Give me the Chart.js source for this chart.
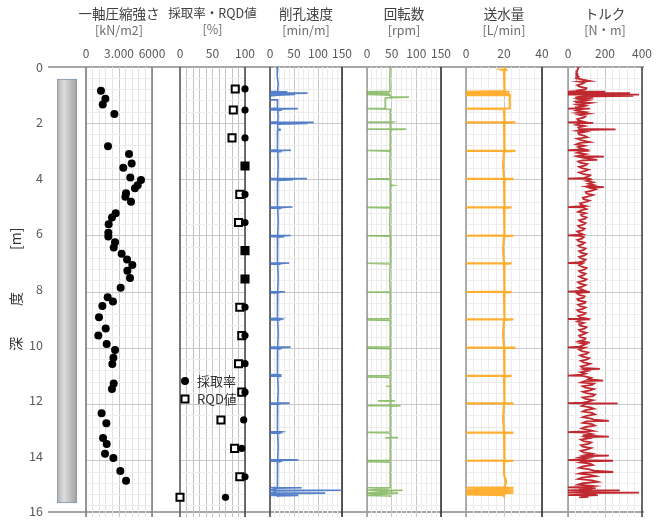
<!DOCTYPE html>
<html>
<head>
<meta charset="utf-8">
<script src="https://cdn.jsdelivr.net/npm/chart.js@4.4.1/dist/chart.umd.min.js"></script>
<style>
  html, body { margin: 0; padding: 0; background: #fff; }
  #wrap { position: relative; width: 659px; height: 524px; overflow: hidden; }
  #wrap canvas { position: absolute; top: 0; }
</style>
</head>
<body>
<div id="wrap">
  <canvas id="base" width="659" height="524" style="left:0"></canvas>
  <canvas id="core"></canvas>
  <canvas id="p1"></canvas>
  <canvas id="p2"></canvas>
  <canvas id="p3"></canvas>
  <canvas id="p4"></canvas>
  <canvas id="p5"></canvas>
  <canvas id="p6"></canvas>
</div>
<script>
// ---- data (depth in m) ----
const coreRange = [0.43, 15.5];

// 一軸圧縮強さ
const ucsDepth = [0.84, 1.13, 1.33, 1.67, 2.82, 3.09, 3.43, 3.58, 3.93, 4.02, 4.2, 4.31, 4.49, 4.61, 4.79, 5.2,
  5.35, 5.59, 5.89, 6.03, 6.23, 6.42, 6.64, 6.84, 7.04, 7.24, 7.5, 7.85, 8.19, 8.34, 8.5, 8.9,
  9.3, 9.55, 9.85, 10.06, 10.34, 10.56, 11.25, 11.45, 12.31, 12.67, 13.19, 13.4, 13.75, 13.9, 14.36, 14.71];
const ucsVal = [1360, 1760, 1520, 2580, 2000, 3910, 4150, 3390, 4030, 5000, 4700, 4450, 3640, 3580, 4090, 2700,
  2360, 2060, 2030, 2030, 2640, 2520, 3240, 3730, 4210, 3760, 4000, 3150, 1970, 2450, 1490, 1180,
  1790, 1120, 1880, 2640, 2490, 2390, 2520, 2360, 1420, 1850, 1550, 1880, 1730, 2490, 3120, 3640];

// 採取率・RQD値
const sampleDepth = [0.78, 1.53, 2.52, 3.52, 4.53, 5.53, 6.53, 7.54, 8.54, 9.55, 10.55, 11.56, 12.55, 13.56, 14.57, 15.3];
const recovery = [100, 100, 100, 100, 100, 100, 100, 100, 100, 100, 100, 100, 98, 95, 100, 70];
const rqd = [85, 82, 80, 100, 92, 90, 100, 100, 92, 95, 90, 95, 63, 84, 92, 0];

// 削孔速度
const speedDepth = [
  0, 0.3, 0.6, 0.86,
  0.88, 0.88, 0.9,
  0.93, 0.93, 0.95,
  0.98, 0.98, 1.0,
  1.03, 1.17, 1.17, 1.3, 1.46,
  1.48, 1.48, 1.5,
  1.53, 1.53, 1.55, 1.8, 1.95,
  1.97, 1.97, 1.99,
  2.01, 2.01, 2.03, 2.21, 2.22, 2.24, 2.25, 2.6, 2.94,
  2.96, 2.96, 2.98,
  3.0, 3.0, 3.02, 3.5, 3.96,
  3.97, 3.97, 3.99,
  4.01, 4.01, 4.03, 4.5, 4.97,
  4.98, 4.98, 5.0,
  5.02, 5.02, 5.04, 5.5, 5.98,
  5.99, 5.99, 6.01,
  6.03, 6.03, 6.05, 6.5, 6.96,
  6.97, 6.97, 6.99,
  7.01, 7.01, 7.03, 7.5, 7.98,
  7.99, 7.99, 8.01,
  8.03, 8.03, 8.05, 8.5, 8.93,
  8.94, 8.94, 8.96,
  8.99, 8.99, 9.01, 9.5, 9.95,
  9.96, 9.96, 9.98,
  10.01, 10.01, 10.03, 10.5, 10.93,
  10.94, 10.94, 10.96,
  10.99, 10.99, 11.01, 11.5, 11.94,
  11.95, 11.95, 11.97,
  11.99, 11.99, 12.01, 12.5, 12.96,
  12.97, 12.97, 12.99,
  13.02, 13.02, 13.04, 13.5, 13.96,
  13.97, 13.97, 13.99,
  14.02, 14.02, 14.04, 14.5, 14.94,
  14.96, 14.96, 14.98,
  15.05, 15.05, 15.07,
  15.15, 15.15, 15.17,
  15.23, 15.23, 15.25, 15.3
];
const speedVal = [
  16, 15, 17, 16,
  0, 36, 16,
  0, 78, 16,
  0, 52, 16,
  0, 0, 16, 15, 16,
  0, 58, 16,
  0, 25, 16, 17, 16,
  0, 91, 16,
  0, 78, 16, 16, 21, 21, 16, 15, 16,
  0, 44, 16,
  0, 25, 16, 17, 16,
  0, 77, 16,
  0, 48, 16, 15, 16,
  0, 47, 16,
  0, 25, 16, 17, 16,
  0, 43, 16,
  0, 30, 16, 15, 16,
  0, 40, 16,
  0, 20, 16, 17, 16,
  0, 31, 16,
  0, 18, 16, 15, 16,
  0, 21, 16,
  0, 20, 16, 17, 16,
  0, 43, 16,
  0, 25, 16, 15, 16,
  0, 24, 16,
  0, 24, 16, 17, 16,
  0, 41, 16,
  0, 18, 16, 15, 16,
  0, 21, 16,
  0, 20, 16, 17, 16,
  0, 59, 16,
  0, 26, 16, 15, 16,
  0, 66, 16,
  0, 150, 16,
  0, 115, 16,
  0, 59, 16, 16
];

// 回転数
const rotDepth = [
  0, 0.5, 0.86,
  0.88, 0.9,
  0.93, 0.95,
  0.98, 1.0,
  1.06, 1.07, 1.09, 1.1, 1.47,
  1.48, 1.5, 1.95,
  1.96, 1.96, 1.98, 2.2,
  2.21, 2.21, 2.23, 2.96,
  2.97, 2.99, 3.5, 3.97,
  3.98, 4.0, 4.2, 4.21, 4.23, 4.98,
  4.99, 5.01, 5.5, 5.99,
  6.0, 6.02, 6.5, 6.97,
  6.98, 7.0, 7.5, 7.99,
  8.0, 8.02, 8.94,
  8.95, 8.97, 8.99, 9.01, 9.95,
  9.96, 9.98, 10.0, 10.02, 10.97,
  10.98, 11.0, 11.02, 11.04, 11.34, 11.35, 11.37, 11.86,
  11.87, 11.87, 11.88, 12.03,
  12.04, 12.04, 12.06, 12.98,
  12.99, 13.01, 13.17, 13.18, 13.18, 13.19, 13.98,
  13.99, 14.01, 14.03, 14.05, 14.95,
  14.96, 14.98, 15.05, 15.05, 15.07, 15.15, 15.15, 15.17, 15.23, 15.25, 15.3
];
const rotVal = [
  47, 46, 47,
  0, 47,
  0, 47,
  0, 47,
  47, 85, 47, 37, 37,
  0, 47, 47,
  0, 51, 47, 47,
  0, 79, 47, 47,
  0, 47, 46, 47,
  0, 47, 47, 53, 47, 47,
  0, 47, 46, 47,
  0, 47, 48, 47,
  0, 47, 46, 47,
  0, 47, 47,
  0, 47, 0, 47, 47,
  0, 47, 0, 47, 47,
  0, 47, 0, 47, 47, 43, 47, 47,
  57, 22, 47, 47,
  0, 68, 47, 47,
  0, 47, 47, 63, 37, 47, 47,
  0, 47, 0, 47, 47,
  0, 47, 0, 72, 47, 0, 63, 47, 0, 47, 47
];

// 送水量
const flowDepth = [
  0, 0.1, 0.1, 0.12, 0.5, 0.86,
  0.88, 0.88, 0.92, 0.92, 1.0, 1.0, 1.2, 1.47,
  1.48, 1.5, 1.8, 1.96,
  1.97, 1.97, 1.99, 2.5, 2.97,
  2.98, 2.98, 3.0, 3.5, 3.97,
  3.98, 3.98, 4.0, 4.5, 4.98,
  4.99, 4.99, 5.01, 5.5, 5.99,
  6.0, 6.0, 6.02, 6.5, 6.97,
  6.98, 6.98, 7.0, 7.5, 7.99,
  8.0, 8.0, 8.02, 8.5, 8.96,
  8.97, 8.97, 8.99, 9.5, 9.97,
  9.98, 9.98, 10.0, 10.5, 10.97,
  10.98, 10.98, 11.0, 11.5, 11.95,
  11.96, 11.96, 11.98, 12.5, 12.99,
  13.0, 13.0, 13.02, 13.5, 13.99,
  14.0, 14.0, 14.02, 14.5, 14.7, 14.8, 14.95,
  14.96, 14.96, 14.98, 15.05, 15.05, 15.07, 15.13, 15.13, 15.15, 15.2, 15.22, 15.3
];
const flowVal = [
  20, 21, 19, 20, 20.5, 20,
  0, 23, 0, 23, 0, 23, 23, 23,
  0, 20, 20.5, 20,
  0, 26, 20, 20.5, 20,
  0, 26, 20, 19.5, 20,
  0, 25, 20, 20.5, 20,
  0, 24, 20, 20.5, 20,
  0, 25, 20, 19.5, 20,
  0, 24, 20, 20.5, 20,
  0, 24, 20, 20.5, 20,
  0, 25, 20, 19.5, 20,
  0, 26, 20, 20.5, 20,
  0, 24, 20, 20.5, 20,
  0, 25, 20, 19.5, 20,
  0, 25, 20, 20.5, 20,
  0, 25, 20, 20, 21, 21, 20,
  0, 25, 20, 0, 25, 20, 0, 25, 20, 0, 20, 20
];

// トルク
const torqueDepth = [
  0, 0.05, 0.1, 0.15, 0.2, 0.25, 0.3, 0.35, 0.4, 0.45, 0.5, 0.52, 0.55, 0.6, 0.65, 0.7, 0.75, 0.8, 0.83, 0.85,
  0.88, 0.88, 0.9, 0.93, 0.93, 0.95, 0.98, 0.98, 1.0, 1.03, 1.05,
  1.08, 1.1, 1.13, 1.15, 1.18, 1.2, 1.23, 1.25, 1.28, 1.3, 1.33, 1.35, 1.38, 1.4, 1.43, 1.46,
  1.48, 1.48, 1.5, 1.55, 1.6, 1.63, 1.66, 1.7, 1.75, 1.8, 1.85, 1.9, 1.94,
  1.97, 1.99, 2.0, 2.05, 2.1, 2.15, 2.2, 2.22, 2.24, 2.27, 2.3, 2.35, 2.4, 2.45, 2.5, 2.55, 2.6, 2.67, 2.7, 2.75, 2.8, 2.85, 2.9, 2.93,
  2.96, 2.97, 3.0, 3.05, 3.1, 3.15, 3.19, 3.21, 3.25, 3.3, 3.32, 3.36, 3.4, 3.45, 3.5, 3.55, 3.6, 3.65, 3.7, 3.75, 3.8, 3.85, 3.9, 3.94,
  3.97, 3.98, 4.0, 4.05, 4.1, 4.15, 4.2, 4.24, 4.27, 4.3, 4.35, 4.4, 4.45, 4.5, 4.55, 4.6, 4.65, 4.7, 4.75, 4.8, 4.85, 4.9, 4.94,
  4.98, 4.99, 5.05, 5.1, 5.15, 5.2, 5.25, 5.3, 5.35, 5.4, 5.45, 5.5, 5.55, 5.6, 5.65, 5.7, 5.75, 5.8, 5.85, 5.9, 5.95,
  5.99, 6.0, 6.05, 6.1, 6.15, 6.2, 6.25, 6.3, 6.35, 6.4, 6.45, 6.5, 6.55, 6.6, 6.65, 6.7, 6.75, 6.8, 6.85, 6.9, 6.94,
  6.97, 6.98, 7.05, 7.1, 7.15, 7.2, 7.25, 7.3, 7.35, 7.4, 7.45, 7.5, 7.55, 7.6, 7.65, 7.7, 7.75, 7.8, 7.85, 7.9, 7.95,
  7.99, 8.0, 8.02, 8.05, 8.1, 8.15, 8.2, 8.25, 8.3, 8.35, 8.4, 8.45, 8.5, 8.55, 8.6, 8.65, 8.7, 8.75, 8.8, 8.85, 8.9, 8.93,
  8.96, 8.97, 8.99, 9.05, 9.1, 9.15, 9.2, 9.25, 9.3, 9.35, 9.4, 9.45, 9.5, 9.55, 9.6, 9.65, 9.7, 9.75, 9.8, 9.82, 9.86, 9.9, 9.94,
  9.97, 9.98, 10.05, 10.1, 10.15, 10.2, 10.25, 10.3, 10.35, 10.4, 10.45, 10.5, 10.55, 10.6, 10.65, 10.7, 10.73, 10.75, 10.8, 10.85, 10.9, 10.94,
  10.97, 10.98, 11.05, 11.1, 11.15, 11.17, 11.22, 11.26, 11.3, 11.35, 11.4, 11.45, 11.5, 11.55, 11.6, 11.65, 11.7, 11.75, 11.8, 11.85, 11.9, 11.93,
  11.95, 11.96, 11.98, 12.05, 12.1, 12.15, 12.2, 12.25, 12.3, 12.35, 12.4, 12.45, 12.5, 12.54, 12.58, 12.6, 12.65, 12.7, 12.75, 12.8, 12.85, 12.9, 12.94,
  12.98, 13.0, 13.05, 13.1, 13.14, 13.16, 13.2, 13.25, 13.3, 13.35, 13.4, 13.45, 13.5, 13.55, 13.6, 13.65, 13.7, 13.75, 13.8, 13.82, 13.84, 13.88, 13.9, 13.94,
  13.98, 14.0, 14.02, 14.06, 14.1, 14.15, 14.2, 14.25, 14.3, 14.35, 14.4, 14.42, 14.46, 14.5, 14.55, 14.6, 14.65, 14.7, 14.75, 14.8, 14.85, 14.9, 14.93,
  14.95, 14.97, 15.0, 15.03, 15.05, 15.05, 15.07, 15.1, 15.13, 15.13, 15.15, 15.18, 15.22, 15.22, 15.25, 15.28, 15.3
];
const torqueVal = [
  58, 55, 52, 47, 45, 52, 50, 58, 46, 80, 118, 60, 90, 75, 50, 62, 100, 95, 55, 60,
  0, 200, 70, 0, 335, 90, 0, 384, 80, 353, 70,
  40, 136, 50, 60, 110, 95, 40, 45, 120, 100, 45, 55, 95, 85, 50, 60,
  0, 118, 70, 45, 90, 55, 107, 60, 95, 85, 50, 55, 80,
  0, 136, 70, 45, 90, 55, 60, 257, 75, 50, 95, 55, 60, 90, 105, 50, 70, 117, 65, 45, 90, 55, 70, 90,
  0, 117, 75, 50, 95, 60, 194, 70, 100, 158, 80, 55, 64, 105, 95, 60, 75, 110, 90, 60, 80, 120, 110, 85,
  0, 120, 125, 100, 136, 110, 140, 105, 194, 120, 150, 130, 95, 100, 135, 110, 80, 85, 115, 95, 65, 70, 95,
  0, 80, 100, 70, 55, 95, 70, 75, 100, 90, 60, 70, 95, 85, 55, 65, 90, 80, 50, 60, 80,
  0, 55, 85, 75, 50, 60, 90, 80, 55, 65, 95, 85, 60, 70, 100, 90, 60, 70, 95, 85, 60,
  0, 80, 60, 75, 100, 90, 60, 70, 95, 85, 60, 75, 100, 90, 55, 65, 95, 80, 55, 70, 90,
  0, 118, 75, 50, 60, 90, 85, 50, 55, 95, 90, 55, 65, 95, 80, 50, 60, 95, 85, 55, 65, 90,
  0, 118, 70, 50, 85, 60, 65, 100, 90, 60, 70, 100, 85, 60, 65, 95, 90, 60, 118, 70, 95, 80, 60,
  0, 90, 60, 75, 110, 100, 65, 80, 115, 105, 70, 85, 120, 100, 70, 80, 172, 85, 110, 70, 95, 70,
  0, 80, 125, 110, 190, 90, 70, 140, 130, 80, 95, 140, 120, 80, 100, 145, 135, 80, 95, 135, 110, 80,
  0, 268, 100, 75, 120, 140, 95, 80, 130, 145, 100, 80, 125, 140, 221, 100, 80, 130, 145, 95, 75, 110, 135,
  0, 100, 130, 80, 221, 95, 115, 70, 85, 125, 110, 70, 80, 125, 105, 70, 85, 130, 95, 221, 90, 65, 110, 80,
  0, 243, 90, 65, 120, 135, 80, 60, 110, 140, 244, 85, 60, 120, 150, 75, 55, 130, 160, 80, 55, 140, 100,
  0, 150, 60, 130, 0, 280, 90, 140, 0, 384, 100, 150, 0, 161, 70, 110, 60
];

// ---- helpers ----
const FONT = '"Noto Sans CJK JP", "Noto Sans", sans-serif';
const M = 24; // side margin of each panel canvas

const pts = (vals, depths) => depths.map((d, i) => ({ x: vals[i], y: d }));
const isMajorDepth = v => Math.abs(v / 2 - Math.round(v / 2)) < 1e-6;

// left/right borders of each panel
const frame = {
  id: 'frame',
  beforeDatasetsDraw(chart, args, opts) {
    const { ctx, chartArea: a } = chart;
    ctx.save();
    ctx.lineWidth = 1.5;
    ctx.strokeStyle = opts.left;
    ctx.beginPath(); ctx.moveTo(a.left, a.top); ctx.lineTo(a.left, a.bottom); ctx.stroke();
    ctx.strokeStyle = opts.right;
    ctx.beginPath(); ctx.moveTo(a.right, a.top); ctx.lineTo(a.right, a.bottom); ctx.stroke();
    ctx.restore();
  }
};

// legend drawn inside the recovery / RQD panel
const markLegend = {
  id: 'markLegend',
  afterDatasetsDraw(chart) {
    const { ctx, chartArea: a } = chart;
    const x = a.left + 5;
    const rows = [a.top + 314, a.top + 332];
    ctx.save();
    ctx.font = '13px ' + FONT;
    ctx.textBaseline = 'middle';
    chart.data.datasets.forEach((ds, i) => {
      const y = rows[i];
      if (ds.pointStyle === 'rect') {
        ctx.fillStyle = '#fff';
        ctx.strokeStyle = '#000';
        ctx.lineWidth = 2;
        ctx.fillRect(x - 3.5, y - 3.5, 7, 7);
        ctx.strokeRect(x - 3.5, y - 3.5, 7, 7);
      } else {
        ctx.fillStyle = '#000';
        ctx.beginPath(); ctx.arc(x, y, 4, 0, Math.PI * 2); ctx.fill();
      }
      ctx.fillStyle = '#333';
      ctx.fillText(ds.label, x + 12, y);
    });
    ctx.restore();
  }
};

function panel(id, left, width, ax, title, unit, datasets, borders, extra) {
  const cv = document.getElementById(id);
  cv.width = width + 2 * M;
  cv.height = 524;
  cv.style.left = (left - M) + 'px';
  return new Chart(cv, {
    type: 'scatter',
    data: { datasets },
    options: {
      responsive: false,
      animation: false,
      events: [],
      layout: { padding: { left: 0, right: 0, top: 0, bottom: 7 } },
      plugins: {
        legend: { display: false },
        tooltip: { enabled: false },
        title: {
          display: true, text: title, color: '#404040',
          font: { family: FONT, size: ax.titleSize || 13.5, weight: 'normal' },
          padding: { top: 6, bottom: 1 }
        },
        subtitle: {
          display: true, text: unit, color: '#6e6e6e',
          font: { family: FONT, size: 12.5 },
          padding: { top: 0, bottom: 0 }
        },
        frame: borders
      },
      scales: {
        x: {
          type: 'linear', position: 'top', min: ax.min, max: ax.max,
          afterFit: s => { s.height = 67 - 6 - 1 - (ax.titleSize || 13.5) * 1.2 - 12.5 * 1.2; },
          ticks: {
            stepSize: ax.minor, autoSkip: false, maxRotation: 0, minRotation: 0,
            padding: 6, color: '#595959', font: { family: FONT, size: 12 },
            callback: v => ax.labels[v] ?? ''
          },
          grid: {
            drawTicks: false,
            color: c => c.tick.value % ax.major === 0 ? '#c8c8c8' : ax.minorColor
          },
          border: { display: false }
        },
        y: {
          type: 'linear', reverse: true, min: 0, max: 16,
          afterFit: s => { s.width = M; },
          ticks: { display: false, stepSize: 0.4 },
          grid: {
            drawTicks: false,
            color: c => {
              const v = c.tick.value;
              if (v === 0 || v === 16) return 'rgba(0,0,0,0)';
              return isMajorDepth(v) ? '#c8c8c8' : '#ededed';
            }
          },
          border: { display: false }
        },
        yRight: {
          type: 'linear', position: 'right', reverse: true, min: 0, max: 16,
          afterFit: s => { s.width = M; },
          ticks: { display: false },
          grid: { display: false, drawTicks: false },
          border: { display: false }
        }
      }
    },
    plugins: [frame].concat(extra || [])
  });
}

const lineSet = (label, vals, depths, color, w) => ({
  label, data: pts(vals, depths), showLine: true, pointRadius: 0,
  borderColor: color, borderWidth: w, tension: 0
});

// ---- depth axis + top / bottom lines ----
new Chart(document.getElementById('base'), {
  type: 'scatter',
  data: { datasets: [] },
  options: {
    responsive: false,
    animation: false,
    events: [],
    layout: { padding: { top: 67, bottom: 7, left: 0, right: 15 } },
    plugins: { legend: { display: false }, tooltip: { enabled: false } },
    scales: {
      x: { display: false, min: 0, max: 1 },
      y: {
        reverse: true, min: 0, max: 16,
        afterFit: s => { s.width = 48; },
        ticks: { stepSize: 2, padding: 5, color: '#595959', font: { family: FONT, size: 12.5 } },
        grid: {
          drawTicks: false, lineWidth: 2,
          color: c => (c.tick.value === 0 || c.tick.value === 16) ? '#a6a6a6' : 'rgba(0,0,0,0)'
        },
        border: { display: false },
        title: {
          display: true, text: '深\u3000\u3000 度\u3000\u3000\u3000[m]', color: '#333',
          font: { family: FONT, size: 14 }, padding: { top: 7, bottom: 0 }
        }
      }
    }
  }
});

// ---- core column ----
const coreCanvas = document.getElementById('core');
coreCanvas.width = 20;
coreCanvas.height = 524;
coreCanvas.style.left = '57px';
new Chart(coreCanvas, {
  type: 'bar',
  data: {
    labels: ['core'],
    datasets: [{
      data: [coreRange],
      backgroundColor: c => {
        const area = c.chart.chartArea;
        if (!area) return '#c8c8c8';
        const g = c.chart.ctx.createLinearGradient(area.left, 0, area.right, 0);
        g.addColorStop(0, '#b0b0b0');
        g.addColorStop(0.35, '#dcdcdc');
        g.addColorStop(1, '#a0a0a0');
        return g;
      },
      borderColor: '#8497b0', borderWidth: 1, borderSkipped: false,
      barPercentage: 1, categoryPercentage: 1
    }]
  },
  options: {
    responsive: false,
    animation: false,
    events: [],
    layout: { padding: { top: 67, bottom: 7, left: 0, right: 0 } },
    plugins: { legend: { display: false }, tooltip: { enabled: false } },
    scales: {
      x: { display: false },
      y: { display: false, reverse: true, min: 0, max: 16 }
    }
  }
});

// ---- panels ----
panel('p1', 86, 66,
  { min: 0, max: 6000, minor: 600, major: 3000, minorColor: '#e2e2e2', labels: { 0: '0', 3000: '3.000', 6000: '6000' } },
  '一軸圧縮強さ', '[kN/m2]',
  [{ label: '一軸圧縮強さ', data: pts(ucsVal, ucsDepth), pointRadius: 4, pointBackgroundColor: '#000', pointBorderWidth: 0, clip: false }],
  { left: '#7a7a7a', right: '#7a7a7a' });

panel('p2', 180, 65,
  { min: 0, max: 100, minor: 10, major: 50, minorColor: '#c4c4c4', titleSize: 12.5, labels: { 0: '0', 50: '50', 100: '100' } },
  '採取率・RQD値', '[%]',
  [
    { label: '採取率', data: pts(recovery, sampleDepth), pointStyle: 'circle', pointRadius: 3.6,
      pointBackgroundColor: '#000', pointBorderWidth: 0, clip: false },
    { label: 'RQD値', data: pts(rqd, sampleDepth), pointStyle: 'rect', pointRadius: 5,
      pointBackgroundColor: '#fff', pointBorderColor: '#000', pointBorderWidth: 2, clip: false }
  ],
  { left: '#555', right: '#404040' }, [markLegend]);

panel('p3', 270, 72,
  { min: 0, max: 150, minor: 10, major: 50, minorColor: '#ececec', labels: { 0: '0', 50: '50', 100: '100', 150: '150' } },
  '削孔速度', '[min/m]',
  [lineSet('削孔速度', speedVal, speedDepth, 'rgba(68,114,196,0.9)', 1.6)],
  { left: '#404040', right: '#262626' });

panel('p4', 367, 74,
  { min: 0, max: 150, minor: 10, major: 50, minorColor: '#ececec', labels: { 0: '0', 50: '50', 100: '100', 150: '150' } },
  '回転数', '[rpm]',
  [lineSet('回転数', rotVal, rotDepth, 'rgba(112,173,71,0.75)', 1.6)],
  { left: '#999', right: '#262626' });

panel('p5', 466, 76,
  { min: 0, max: 40, minor: 4, major: 20, minorColor: '#ececec', labels: { 0: '0', 20: '20', 40: '40' } },
  '送水量', '[L/min]',
  [lineSet('送水量', flowVal, flowDepth, 'rgba(255,172,40,0.95)', 2.2)],
  { left: '#999', right: '#262626' });

panel('p6', 568, 74,
  { min: 0, max: 400, minor: 40, major: 200, minorColor: '#ececec', labels: { 0: '0', 200: '200', 400: '400' } },
  'トルク', '[N・m]',
  [lineSet('トルク', torqueVal, torqueDepth, 'rgba(190,30,38,0.95)', 1.8)],
  { left: '#999', right: '#404040' });
</script>
</body>
</html>
